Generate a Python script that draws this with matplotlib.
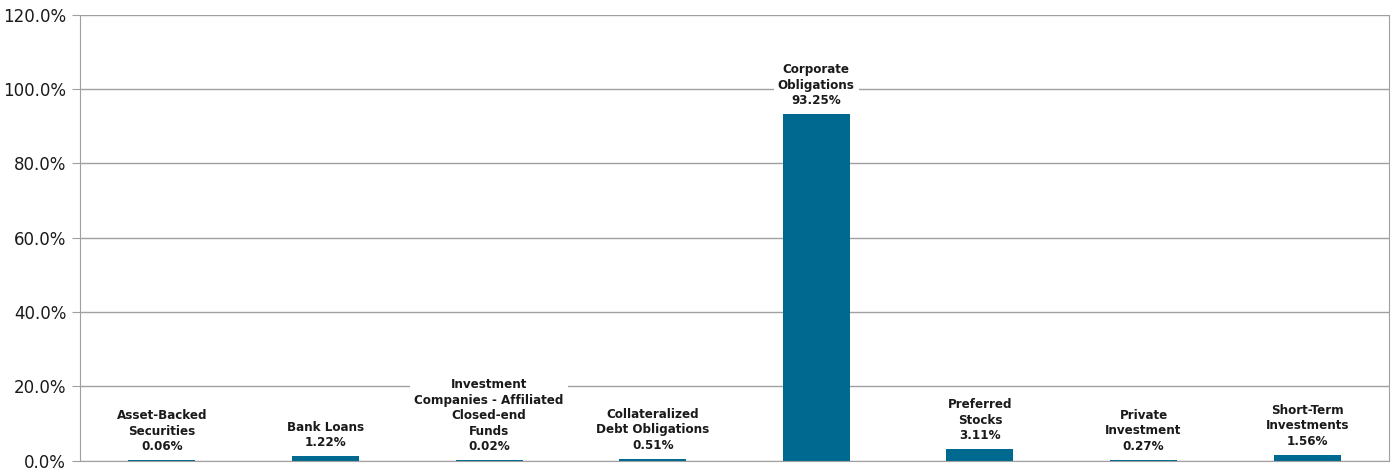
import numpy as np
import matplotlib
matplotlib.use("Agg")
import matplotlib.pyplot as plt
from matplotlib.ticker import FuncFormatter

categories = [
    "Asset-Backed\nSecurities",
    "Bank Loans",
    "Investment\nCompanies - Affiliated\nClosed-end\nFunds",
    "Collateralized\nDebt Obligations",
    "Corporate\nObligations",
    "Preferred\nStocks",
    "Private\nInvestment",
    "Short-Term\nInvestments",
]
values = [0.06, 1.22, 0.02, 0.51, 93.25, 3.11, 0.27, 1.56]

bar_color = "#006990"
grid_color = "#a0a0a0"

fig = plt.figure(figsize=(13.94, 4.68), dpi=100)
ax = fig.add_axes([0.0574, 0.016, 0.939, 0.952])

x = np.arange(len(values))
ax.bar(x, values, width=0.41, color=bar_color, zorder=2)

ax.set_xlim(-0.5, len(values) - 0.5)
ax.set_ylim(0, 120)
ax.set_yticks(np.arange(0, 121, 20))
ax.yaxis.set_major_formatter(FuncFormatter(lambda v, _: f"{v:.1f}%"))
ax.set_xticks([])
ax.grid(axis="y", color=grid_color, linewidth=1, zorder=0)
ax.tick_params(axis="y", length=6, color=grid_color, labelsize=12,
               labelcolor="#1a1a1a", pad=4)
for side in ["left", "right", "bottom"]:
    ax.spines[side].set_color(grid_color)
ax.spines["top"].set_visible(False)

for xi, (cat, v) in enumerate(zip(categories, values)):
    ax.annotate(f"{cat}\n{v:.2f}%", xy=(xi, v), xytext=(0, 5),
                textcoords="offset points", ha="center", va="bottom",
                fontsize=9.5, fontweight="bold", fontstretch="condensed",
                color="#1a1a1a", family=["DejaVu Sans"],
                linespacing=1.25,
                bbox=dict(boxstyle="square,pad=0.3", fc="white", ec="none"),
                zorder=3)

fig.savefig("out.png", dpi=100)
